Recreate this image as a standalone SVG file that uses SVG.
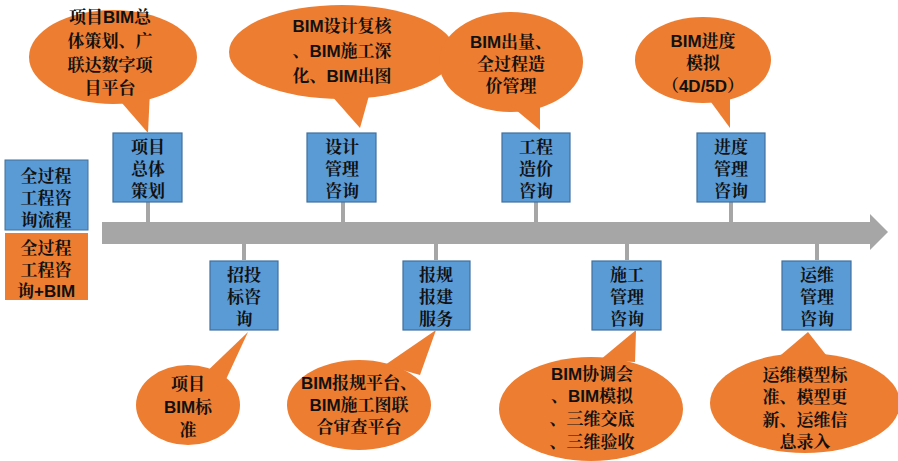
<svg xmlns="http://www.w3.org/2000/svg" width="898" height="461" viewBox="0 0 898 461">
<style>
.b{fill:#5b9bd5;stroke:#41719c;stroke-width:1.2}
.o{fill:#ed7d31}
.s{stroke:#a6a6a6;stroke-width:4}
text{font-family:"Liberation Sans","Noto Serif CJK SC","Noto Sans CJK SC",sans-serif;font-size:17px;font-weight:bold;fill:#111;text-anchor:middle}
</style>
<rect width="898" height="461" fill="#fff"/>
<g id="connectors">
<path d="M102 222H870V214L888 232L870 250V244H102Z" fill="#a6a6a6"/>
<path class="s" d="M148 202V222M343 202V222M536 202V222M731 202V222M244 244V260M436 244V260M627 244V260M817 244V260"/>
</g>
<g id="legend1"><rect x="5" y="160" width="83" height="70" fill="#5b9bd5" stroke="#41719c"/><text x="46" y="182">全过程</text><text x="46" y="204">工程咨</text><text x="46" y="226">询流程</text></g>
<g id="legend2"><rect x="5" y="233" width="83" height="67" class="o"/><text x="46" y="254">全过程</text><text x="46" y="276">工程咨</text><text x="46" y="297">询+BIM</text></g>
<g id="n1"><rect class="b" x="113" y="133" width="69" height="69"/><text x="148" y="153">项目</text><text x="148" y="175">总体</text><text x="148" y="197">策划</text></g>
<g id="n2"><rect class="b" x="307" y="133" width="69" height="69"/><text x="342" y="153">设计</text><text x="342" y="175">管理</text><text x="342" y="197">咨询</text></g>
<g id="n3"><rect class="b" x="502" y="133" width="68" height="69"/><text x="536" y="153">工程</text><text x="536" y="175">造价</text><text x="536" y="197">咨询</text></g>
<g id="n4"><rect class="b" x="697" y="133" width="68" height="69"/><text x="731" y="153">进度</text><text x="731" y="175">管理</text><text x="731" y="197">咨询</text></g>
<g id="n5"><rect class="b" x="210" y="261" width="68" height="69"/><text x="244" y="281">招投</text><text x="244" y="303">标咨</text><text x="244" y="325">询</text></g>
<g id="n6"><rect class="b" x="403" y="261" width="67" height="69"/><text x="436" y="281">报规</text><text x="436" y="303">报建</text><text x="436" y="325">服务</text></g>
<g id="n7"><rect class="b" x="592" y="261" width="69" height="69"/><text x="627" y="281">施工</text><text x="627" y="303">管理</text><text x="627" y="325">咨询</text></g>
<g id="n8"><rect class="b" x="782" y="261" width="69" height="69"/><text x="817" y="281">运维</text><text x="817" y="303">管理</text><text x="817" y="325">咨询</text></g>
<g id="c1"><ellipse class="o" cx="113" cy="57" rx="84" ry="47"/><polygon class="o" points="115,95 148,133 150,90"/><text x="110" y="23">项目BIM总</text><text x="110" y="47">体策划、广</text><text x="110" y="71">联达数字项</text><text x="110" y="94">目平台</text></g>
<g id="c2"><ellipse class="o" cx="342" cy="52" rx="113" ry="47"/><polygon class="o" points="330,94 360,128 370,92"/><text x="342" y="32">BIM设计复核</text><text x="342" y="57">、BIM施工深</text><text x="342" y="82">化、BIM出图</text></g>
<g id="c3"><ellipse class="o" cx="511" cy="62" rx="72" ry="50"/><polygon class="o" points="510,105 540,130 540,100"/><text x="511" y="48">BIM出量、</text><text x="511" y="70">全过程造</text><text x="511" y="92">价管理</text></g>
<g id="c4"><ellipse class="o" cx="703" cy="60" rx="68" ry="43"/><polygon class="o" points="708,98 730,128 730,94"/><text x="703" y="47">BIM进度</text><text x="703" y="69">模拟</text><text x="703" y="92">（4D/5D）</text></g>
<g id="c5"><ellipse class="o" cx="188" cy="405" rx="52" ry="40"/><polygon class="o" points="200,378 248,332 222,388"/><text x="188" y="390">项目</text><text x="188" y="413">BIM标</text><text x="188" y="436">准</text></g>
<g id="c6"><ellipse class="o" cx="359" cy="405" rx="72" ry="45"/><polygon class="o" points="385,365 436,330 420,375"/><text x="359" y="389">BIM报规平台、</text><text x="359" y="411">BIM施工图联</text><text x="359" y="433">合审查平台</text></g>
<g id="c7"><ellipse class="o" cx="591" cy="409" rx="92" ry="52"/><polygon class="o" points="600,360 636,330 635,362"/><text x="592" y="380">BIM协调会</text><text x="592" y="402">、BIM模拟</text><text x="592" y="425">、三维交底</text><text x="592" y="448">、三维验收</text></g>
<g id="c8"><ellipse class="o" cx="805" cy="403" rx="95" ry="50"/><polygon class="o" points="775,360 808,332 830,360"/><text x="805" y="381">运维模型标</text><text x="805" y="403">准、模型更</text><text x="805" y="426">新、运维信</text><text x="805" y="448">息录入</text></g>
</svg>
